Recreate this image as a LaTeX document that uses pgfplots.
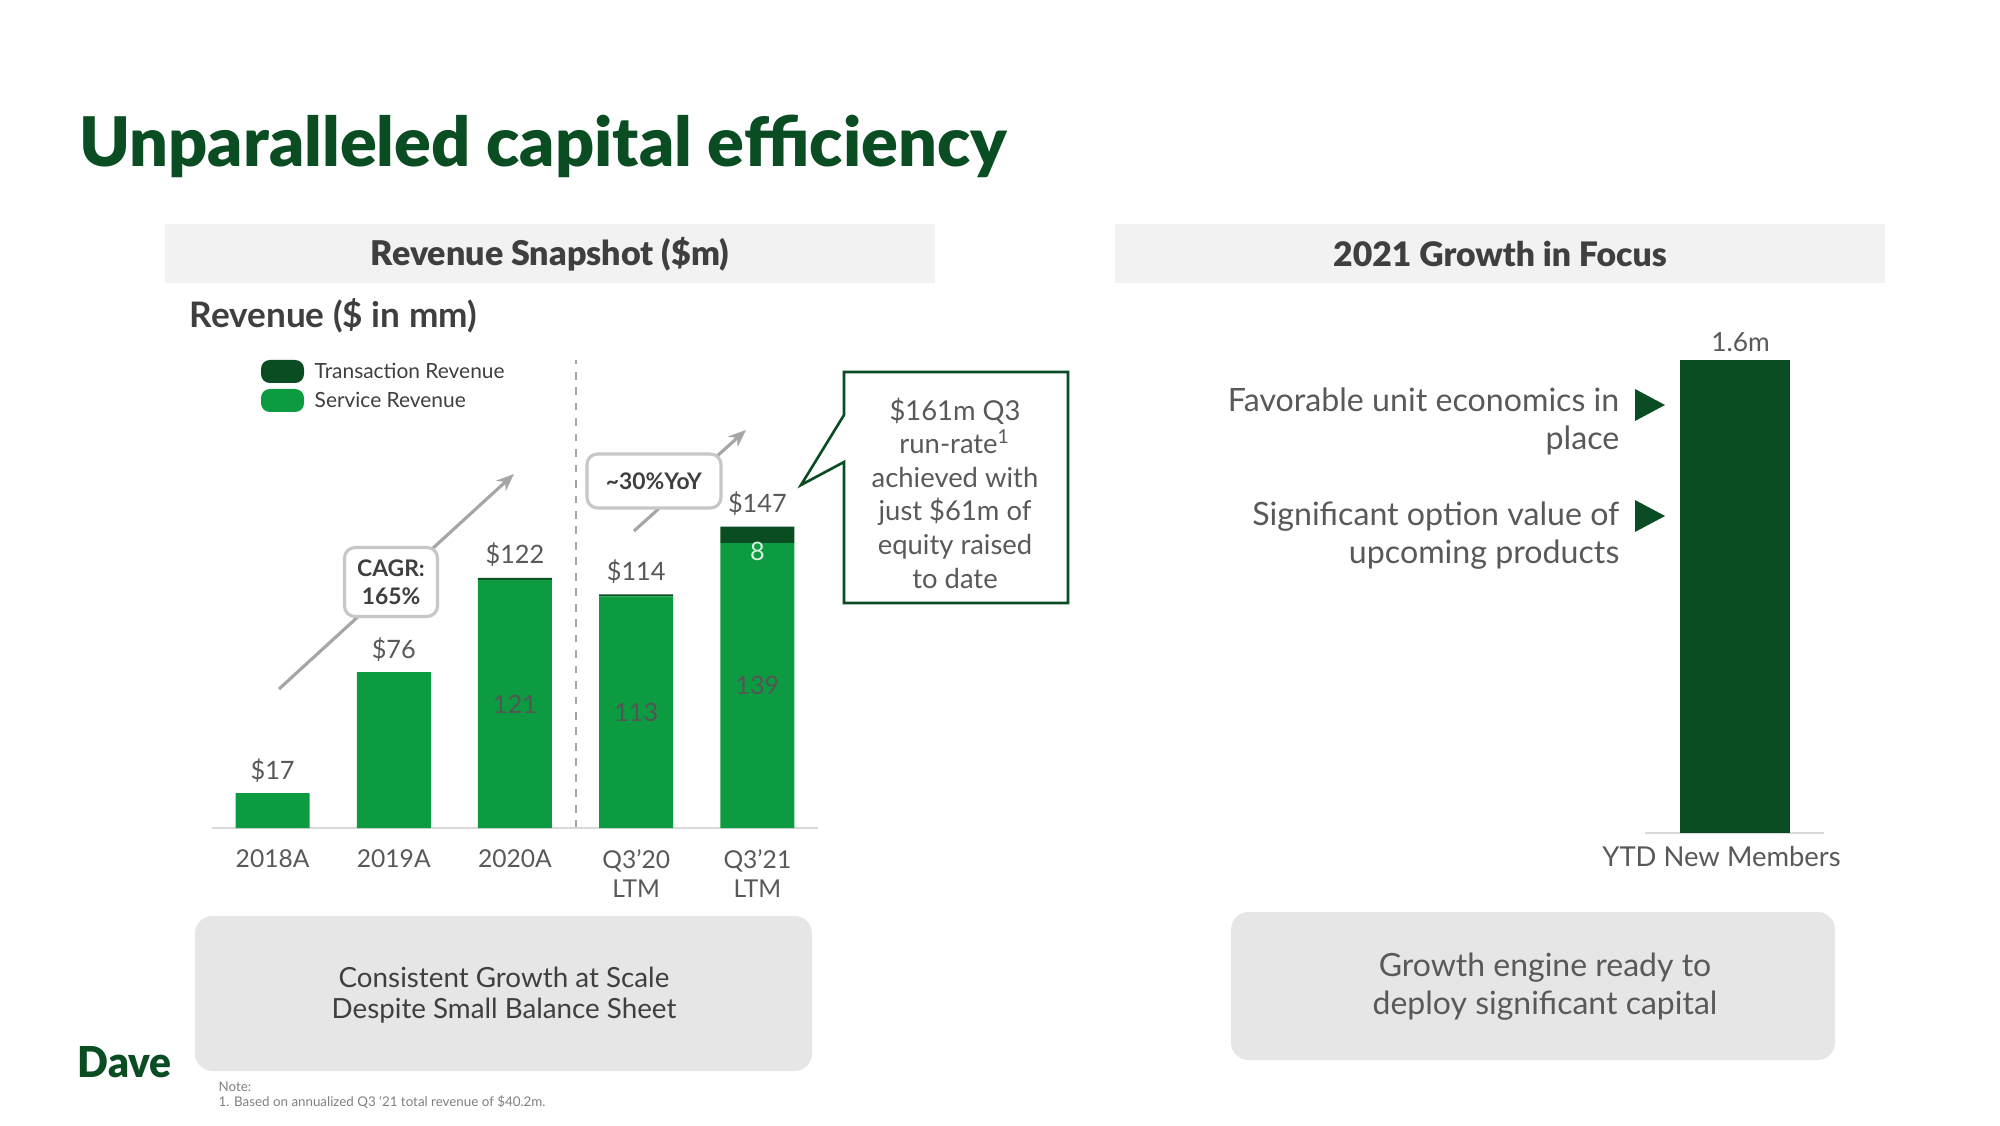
\documentclass[border=0pt]{standalone}
\usepackage{fontspec}
\setmainfont{Lato}
\newfontfamily\blackfont{Lato Black}
\usepackage{graphicx}
\usepackage{pgfplots}
\pgfplotsset{compat=1.18}
\usetikzlibrary{arrows.meta}
\definecolor{svc}{HTML}{0D9B42}
\definecolor{trx}{HTML}{0B4D23}
\definecolor{dkgreen}{HTML}{0A4D22}
\definecolor{txt}{HTML}{595959}
\definecolor{hdr}{HTML}{3F3F3F}
\definecolor{hdrbg}{HTML}{F2F2F2}
\definecolor{boxbg}{HTML}{E6E6E6}
\definecolor{argray}{HTML}{A6A6A6}
\definecolor{axgray}{HTML}{D9D9D9}
\definecolor{innum}{HTML}{555555}
\definecolor{lightnum}{HTML}{D8F0DE}
\newcommand{\fs}[2]{\fontsize{#1}{#2}\selectfont}
\begin{document}
\begin{tikzpicture}
\path[use as bounding box, fill=white] (0,0) rectangle (20,11.25);
% Title
\node[anchor=base west, inner sep=0, text=dkgreen] at (0.79,9.58) {\resizebox{9.27cm}{!}{\fs{19}{22}\blackfont Unparalleled capital efficiency}};
% header bars
\fill[hdrbg] (1.65,8.42) rectangle (9.35,9.01);
\fill[hdrbg] (11.15,8.42) rectangle (18.85,9.01);
\node[text=hdr, font=\fs{9.7}{11}\blackfont] at (5.50,8.71) {Revenue Snapshot (\$m)};
\node[text=hdr, font=\fs{9.6}{11}\blackfont] at (15.00,8.71) {2021 Growth in Focus};
\node[anchor=west, inner sep=0, text=hdr, font=\fs{10}{11}\bfseries] at (1.89,8.09) {Revenue (\$ in mm)};
% legend
\fill[trx, rounded corners=2.5pt] (2.61,7.42) rectangle (3.04,7.65);
\fill[svc, rounded corners=2.5pt] (2.61,7.13) rectangle (3.04,7.36);
\node[anchor=west, inner sep=0, text=hdr, font=\fs{5.95}{7}] at (3.14,7.54) {Transaction Revenue};
\node[anchor=west, inner sep=0, text=hdr, font=\fs{5.95}{7}] at (3.14,7.25) {Service Revenue};
% dashed divider
\draw[argray, line width=0.45pt, dash pattern=on 2.2pt off 2.2pt] (5.76,2.97) -- (5.76,7.65);
% main bar chart
\begin{axis}[
  at={(2.12cm,2.97cm)}, anchor=south west, scale only axis,
  width=6.06cm, height=4.10cm,
  xmin=-0.5, xmax=4.5, ymin=0, ymax=200,
  ybar stacked, bar width=0.74cm,
  axis y line=none, axis x line*=bottom,
  x axis line style={axgray, line width=0.8pt, -},
  xtick={0,1,2,3,4}, xticklabels={2018A,2019A,2020A,{Q3'20\\LTM},{Q3'21\\LTM}},
  major tick length=0pt,
  xticklabel style={align=center, text=txt, font=\fs{7}{8.2}, inner sep=0pt, anchor=north, yshift=-0.21cm},
  clip=false,
]
\addplot[fill=svc, draw=none] coordinates {(0,17) (1,76) (2,121) (3,113) (4,139)};
\addplot[fill=trx, draw=none] coordinates {(0,0) (1,0) (2,1) (3,1) (4,8)};
\end{axis}
% labels overlay
\begin{axis}[
  at={(2.12cm,2.97cm)}, anchor=south west, scale only axis,
  width=6.06cm, height=4.10cm,
  xmin=-0.5, xmax=4.5, ymin=0, ymax=200,
  hide axis, clip=false,
]
\addplot[draw=none, mark=none, nodes near coords, point meta=explicit symbolic,
  nodes near coords style={anchor=center, yshift=0.23cm, text=txt, font=\fs{7.2}{8}}]
  coordinates {(0,17)[\$17] (1,76)[\$76] (2,122)[\$122] (3,114)[\$114] (4,147)[\$147]};
\addplot[draw=none, mark=none, nodes near coords, point meta=explicit symbolic,
  nodes near coords style={anchor=center, text=innum, font=\fs{7.2}{8}}]
  coordinates {(2,60.5)[121] (3,56.5)[113] (4,69.5)[139]};
\addplot[draw=none, mark=none, nodes near coords, point meta=explicit symbolic,
  nodes near coords style={anchor=center, yshift=-0.08cm, text=lightnum, font=\fs{7.2}{8}}]
  coordinates {(4,139)[8]};
\end{axis}
% CAGR arrow and box
\draw[argray, line width=0.9pt, -{Stealth[length=5pt,width=4pt]}] (2.79,4.36) -- (5.14,6.51);
\node[draw=black!22, line width=0.9pt, fill=white, rounded corners=3pt, minimum width=0.93cm, minimum height=0.69cm, inner sep=0pt, align=center, text=hdr, font=\fs{6.5}{8}\bfseries] at (3.91,5.43) {CAGR:\\165\%};
% YoY arrow and box
\draw[argray, line width=0.9pt, -{Stealth[length=5pt,width=4pt]}] (6.34,5.94) -- (7.46,6.95);
\node[draw=black!22, line width=0.9pt, fill=white, rounded corners=3pt, minimum width=1.34cm, minimum height=0.54cm, inner sep=0pt, text=hdr, font=\fs{6.5}{8}\bfseries] at (6.54,6.44) {\textasciitilde30\%YoY};
% callout
\draw[dkgreen, line width=0.75pt, fill=white] (8.44,7.53) -- (10.68,7.53) -- (10.68,5.22) -- (8.44,5.22) -- (8.44,6.63) -- (8.01,6.40) -- (8.44,7.10) -- cycle;
\node[align=center, text=txt, font=\fs{7.8}{9.55}] at (9.55,6.32) {\$161m Q3\\run-rate\textsuperscript{1}\\achieved with\\just \$61m of\\equity raised\\to date};
% right panel bullets
\fill[dkgreen] (16.35,7.36) -- (16.35,7.04) -- (16.65,7.20) -- cycle;
\fill[dkgreen] (16.35,6.25) -- (16.35,5.93) -- (16.65,6.09) -- cycle;
\node[anchor=east, align=right, inner sep=0, text=txt, font=\fs{9.15}{10.8}] at (16.20,7.04) {Favorable unit economics in\\place};
\node[anchor=east, align=right, inner sep=0, text=txt, font=\fs{9.15}{10.8}] at (16.20,5.89) {Significant option value of\\upcoming products};
% right bar chart
\begin{axis}[
  at={(16.45cm,2.92cm)}, anchor=south west, scale only axis,
  width=1.79cm, height=4.73cm,
  xmin=-1, xmax=1, ymin=0, ymax=1.6,
  ybar, bar width=1.10cm,
  axis y line=none, axis x line*=bottom,
  x axis line style={axgray, line width=0.8pt, -},
  xtick={0}, xticklabels={YTD New Members}, major tick length=0pt,
  xticklabel style={text=txt, font=\fs{7.8}{10}, inner sep=0pt, anchor=north, yshift=-0.13cm, xshift=-0.13cm},
  nodes near coords, point meta=explicit symbolic,
  nodes near coords style={text=txt, font=\fs{7.5}{9}, anchor=center, yshift=0.18cm, xshift=0.06cm},
  clip=false,
]
\addplot[fill=dkgreen, draw=none] coordinates {(0,1.6)[1.6m]};
\end{axis}
% bottom boxes
\fill[boxbg, rounded corners=5pt] (1.95,0.54) rectangle (8.12,2.09);
\node[align=center, text=hdr, font=\fs{7.9}{8.8}] at (5.04,1.295) {Consistent Growth at Scale\\Despite Small Balance Sheet};
\fill[boxbg, rounded corners=5pt] (12.31,0.65) rectangle (18.35,2.13);
\node[align=center, text=txt, font=\fs{9.1}{11}] at (15.45,1.385) {Growth engine ready to\\deploy significant capital};
% logo
\node[anchor=south west, inner sep=0, text=dkgreen] at (0.77,0.46) {\resizebox{0.94cm}{0.31cm}{\blackfont Dave}};
% note
\node[anchor=west, inner sep=0, text=black!50, font=\fs{3.8}{4.5}] at (2.18,0.38) {Note:};
\node[anchor=west, inner sep=0, text=black!50, font=\fs{3.8}{4.5}] at (2.18,0.23) {1. Based on annualized Q3 ‘21 total revenue of \$40.2m.};
\end{tikzpicture}
\end{document}
